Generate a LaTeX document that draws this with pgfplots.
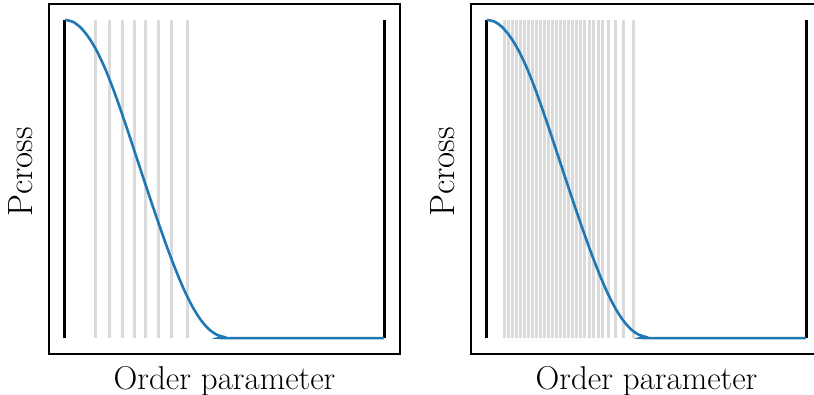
\documentclass[border=0pt]{standalone}
\usepackage{pgfplots}
\pgfplotsset{compat=1.18}

\definecolor{curveblue}{HTML}{1F77B4}
\definecolor{ifacegray}{HTML}{DADADA}

% Crossing-probability curve, shared by both panels
\pgfplotstableread{
x      y
0      1
0.025  0.994
0.05   0.975
0.075  0.944
0.1    0.902
0.125  0.849
0.15   0.786
0.175  0.716
0.2    0.642
0.225  0.566
0.25   0.490
0.275  0.415
0.3    0.342
0.325  0.272
0.35   0.207
0.375  0.148
0.4    0.098
0.425  0.058
0.45   0.029
0.475  0.011
0.5    0.003
0.52   0
1      0
}\pcross

% Interface positions, coarse set
\pgfplotstableread{
x    y
0.096 1
0.141 1
0.180 1
0.219 1
0.253 1
0.292 1
0.335 1
0.384 1
}\coarse

% Interface positions, fine set
\pgfplotstableread{
x    y
0.056 1
0.069 1
0.081 1
0.094 1
0.106 1
0.119 1
0.131 1
0.144 1
0.156 1
0.169 1
0.181 1
0.194 1
0.206 1
0.219 1
0.231 1
0.244 1
0.256 1
0.269 1
0.281 1
0.294 1
0.307 1
0.320 1
0.333 1
0.348 1
0.363 1
0.380 1
0.402 1
0.427 1
0.458 1
}\fine

\pgfplotsset{
  panel/.style={
    scale only axis,
    width=175.5pt, height=175pt,
    anchor=south west,
    xmin=-0.05, xmax=1.05,
    ymin=-0.05, ymax=1.05,
    xtick=\empty, ytick=\empty,
    axis line style={line width=0.6pt},
    xlabel={Order parameter},
    ylabel={Pcross},
    xlabel style={font=\fontsize{16.5}{19}\selectfont,
      at={(axis description cs:0.5,0)}, anchor=north, yshift=-2.5pt},
    ylabel style={font=\fontsize{17.5}{20}\selectfont,
      at={(axis description cs:-0.027,0.52)}, anchor=south},
    clip=false,
  },
}

\begin{document}
\begin{tikzpicture}
\clip (0,0) rectangle (407pt,197.5pt);
\path[use as bounding box] (0,0) rectangle (407pt,197.5pt);

\begin{axis}[panel, at={(24.5pt,20.5pt)}]
  \addplot[ycomb, ifacegray, line width=1.5pt, mark=none] table[x=x,y=y] {\coarse};
  \addplot[black, line width=1.5pt, mark=none] coordinates {(0,0) (0,1)};
  \addplot[black, line width=1.5pt, mark=none] coordinates {(1,0) (1,1)};
  \addplot[curveblue, line width=1.3pt, smooth, mark=none] table[x=x,y=y] {\pcross};
\end{axis}

\begin{axis}[panel, at={(235.5pt,20.5pt)}]
  \addplot[ycomb, ifacegray, line width=1.5pt, mark=none] table[x=x,y=y] {\fine};
  \addplot[black, line width=1.5pt, mark=none] coordinates {(0,0) (0,1)};
  \addplot[black, line width=1.5pt, mark=none] coordinates {(1,0) (1,1)};
  \addplot[curveblue, line width=1.3pt, smooth, mark=none] table[x=x,y=y] {\pcross};
\end{axis}
\end{tikzpicture}
\end{document}
